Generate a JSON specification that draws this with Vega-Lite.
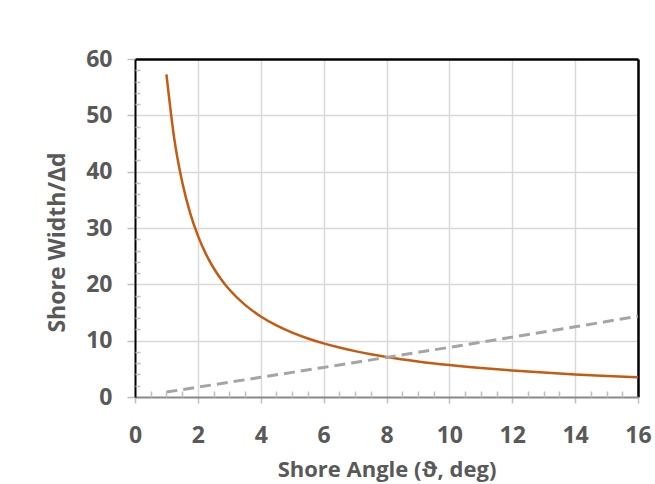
{
  "$schema": "https://vega.github.io/schema/vega-lite/v6.json",
  "autosize": {"type": "none"},
  "padding": {"left": 135, "top": 59, "right": 17, "bottom": 87},
  "width": 503,
  "height": 338,
  "background": "white",
  "config": {"view": {"stroke": null}},
  "resolve": {"axis": {"x": "independent", "y": "independent"}},
  "layer": [
    {
      "data": {"values": [
        {"angle": 1, "value": 57.29}, {"angle": 1.25, "value": 45.83}, {"angle": 1.5, "value": 38.19},
        {"angle": 1.75, "value": 32.73}, {"angle": 2, "value": 28.64}, {"angle": 2.25, "value": 25.45},
        {"angle": 2.5, "value": 22.90}, {"angle": 2.75, "value": 20.82}, {"angle": 3, "value": 19.08},
        {"angle": 3.5, "value": 16.35}, {"angle": 4, "value": 14.30}, {"angle": 4.5, "value": 12.71},
        {"angle": 5, "value": 11.43}, {"angle": 5.5, "value": 10.39}, {"angle": 6, "value": 9.514},
        {"angle": 6.5, "value": 8.777}, {"angle": 7, "value": 8.144}, {"angle": 7.5, "value": 7.596},
        {"angle": 8, "value": 7.115}, {"angle": 9, "value": 6.314}, {"angle": 10, "value": 5.671},
        {"angle": 11, "value": 5.145}, {"angle": 12, "value": 4.705}, {"angle": 13, "value": 4.331},
        {"angle": 14, "value": 4.011}, {"angle": 15, "value": 3.732}, {"angle": 16, "value": 3.487}
      ]},
      "mark": {"type": "line", "color": "#C55A11", "strokeWidth": 2.5, "interpolate": "monotone"},
      "encoding": {
        "x": {"field": "angle", "type": "quantitative", "scale": {"domain": [0, 16], "nice": false},
          "axis": {"orient": "bottom", "values": [0, 2, 4, 6, 8, 10, 12, 14, 16],
            "domainColor": "#898989", "domainWidth": 2, "tickColor": "#bfbfbf", "tickWidth": 1.5, "tickSize": 6,
            "grid": false, "labelFont": "Open Sans", "labelFontSize": 23, "labelFontWeight": "bold",
            "labelColor": "#595959", "labelPadding": 39, "labelBaseline": "alphabetic", "labelFlush": false, "labelOverlap": false,
            "title": "Shore Angle (ϑ, deg)", "titleFont": "Open Sans", "titleFontSize": 22,
            "titleFontWeight": "bold", "titleColor": "#595959", "titleY": 79, "titleBaseline": "alphabetic", "zindex": 1}},
        "y": {"field": "value", "type": "quantitative", "scale": {"domain": [0, 60], "nice": false},
          "axis": {"orient": "left", "values": [0, 10, 20, 30, 40, 50, 60],
            "domainColor": "#000000", "domainWidth": 2, "tickColor": "#bfbfbf", "tickWidth": 1.5, "tickSize": 8,
            "grid": false, "labelFont": "Open Sans", "labelFontSize": 23, "labelFontWeight": "bold",
            "labelColor": "#595959", "labelPadding": 15, "labelFlush": false, "labelOverlap": false,
            "title": "Shore Width/Δd", "titleFont": "Open Sans", "titleFontSize": 23,
            "titleFontWeight": "bold", "titleColor": "#595959", "titleX": -71, "titleY": 183, "titleAngle": -90,
            "titleBaseline": "alphabetic", "zindex": 1}}
      }
    },
    {
      "data": {"values": [
        {"angle": 1, "value": 0.873}, {"angle": 2, "value": 1.746}, {"angle": 3, "value": 2.620},
        {"angle": 4, "value": 3.496}, {"angle": 5, "value": 4.374}, {"angle": 6, "value": 5.255},
        {"angle": 7, "value": 6.139}, {"angle": 8, "value": 7.027}, {"angle": 9, "value": 7.919},
        {"angle": 10, "value": 8.816}, {"angle": 11, "value": 9.719}, {"angle": 12, "value": 10.628},
        {"angle": 13, "value": 11.543}, {"angle": 14, "value": 12.467}, {"angle": 15, "value": 13.397},
        {"angle": 16, "value": 14.337}
      ]},
      "mark": {"type": "line", "color": "#A5A5A5", "strokeWidth": 3, "strokeDash": [11, 6]},
      "encoding": {
        "x": {"field": "angle", "type": "quantitative",
          "axis": {"orient": "bottom", "values": [0.5, 1, 1.5, 2.5, 3, 3.5, 4.5, 5, 5.5, 6.5, 7, 7.5, 8.5, 9, 9.5, 10.5, 11, 11.5, 12.5, 13, 13.5, 14.5, 15, 15.5],
            "domain": false, "labels": false, "grid": false, "title": null,
            "tickColor": "#bfbfbf", "tickWidth": 1.5, "tickSize": -6, "zindex": 1}},
        "y": {"field": "value", "type": "quantitative",
          "axis": {"orient": "left", "values": [2, 4, 6, 8, 12, 14, 16, 18, 22, 24, 26, 28, 32, 34, 36, 38, 42, 44, 46, 48, 52, 54, 56, 58],
            "domain": false, "labels": false, "grid": false, "title": null,
            "tickColor": "#bfbfbf", "tickWidth": 1.5, "tickSize": -5, "zindex": 1}}
      }
    },
    {
      "data": {"values": [
        {"angle": 1, "value": 57.29}, {"angle": 16, "value": 3.487}
      ]},
      "mark": {"type": "point", "opacity": 0},
      "encoding": {
        "x": {"field": "angle", "type": "quantitative",
          "axis": {"orient": "top", "values": [2, 4, 6, 8, 10, 12, 14],
            "domainColor": "#000000", "domainWidth": 2.5, "labels": false, "ticks": false, "title": null,
            "grid": true, "gridColor": "#d9d9d9", "gridWidth": 1.5, "zindex": 0}},
        "y": {"field": "value", "type": "quantitative",
          "axis": {"orient": "right", "values": [10, 20, 30, 40, 50],
            "domainColor": "#000000", "domainWidth": 2.5, "labels": false, "ticks": false, "title": null,
            "grid": true, "gridColor": "#d9d9d9", "gridWidth": 1.5, "zindex": 0}}
      }
    }
  ]
}
